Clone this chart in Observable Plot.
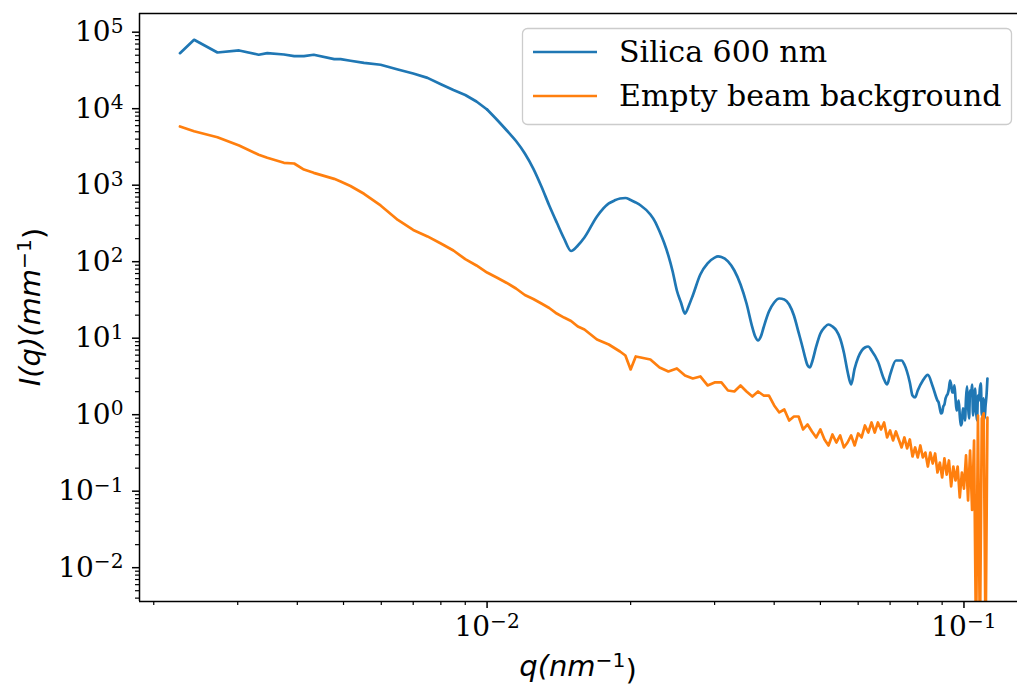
<!DOCTYPE html>
<html>
<head>
<meta charset="utf-8">
<script src="https://cdn.jsdelivr.net/npm/d3@7"></script>
<script src="https://cdn.jsdelivr.net/npm/@observablehq/plot@0.6"></script>
<style>
  html, body { margin: 0; padding: 0; background: #fff; }
  #chart { width: 1018px; height: 686px; overflow: hidden; }
</style>
</head>
<body>
<div id="chart"></div>
<script>
// ---- data ----
const seriesNames = ["Silica 600 nm", "Empty beam background"];
const seriesColors = ["#1f77b4", "#ff7f0e"];

const qSilica = [0.00227,0.00243,0.00272,0.00302,0.00332,0.00346,0.00375,0.00394,0.00413,0.00433,
  0.00478,0.00493,0.00517,0.00552,0.00598,0.0065,0.0070,0.0075,0.008,0.0085,
  0.009,0.0095,0.010,0.0105,0.011,0.0115,0.012,0.0125,0.013,0.0135,
  0.014,0.0145,0.015,0.0155,0.016,0.017,0.018,0.0185,0.019,0.0195,
  0.020,0.0205,0.021,0.022,0.0225,0.023,0.0235,0.024,0.0245,0.025,
  0.0255,0.026,0.0265,0.027,0.028,0.029,0.030,0.0305,0.031,0.032,
  0.033,0.034,0.035,0.036,0.0365,0.037,0.0375,0.038,0.039,0.040,
  0.041,0.042,0.043,0.044,0.045,0.046,0.0465,0.047,0.0475,0.048,
  0.049,0.050,0.051,0.052,0.053,0.054,0.055,0.056,0.057,0.058,
  0.059,0.060,0.062,0.063,0.064,0.066,0.068,0.069,0.070,0.072,
  0.074,0.075,0.077,0.078,0.079,0.080,0.082,0.084,0.086,0.088,
  0.0885,0.089,0.0895,0.090,0.0905,0.091,0.0915,0.092,0.0925,0.093,
  0.0935,0.094,0.0945,0.095,0.0955,0.096,0.0965,0.097,0.0975,0.098,
  0.0985,0.099,0.0995,0.100,0.1005,0.101,0.1015,0.102,0.1025,0.103,
  0.1035,0.104,0.1045,0.105,0.1055,0.106,0.1065,0.107,0.1075,0.108,
  0.1085,0.109,0.1095,0.110,0.1105,0.111,0.1115,0.112];
const iSilica = [53200,79600,54300,57700,50700,53200,51100,48600,48600,50700,
  44400,44400,42300,39800,37500,32500,28800,25300,20900,17500,
  15100,12400,9760,7120,5190,3780,2600,1650,962,543,
  325,201,138,163,207,390,577,631,670,680,
  641,594,543,414,335,248,178,120,74.4,42.0,
  29.3,21.0,26.8,36.2,68.0,94.7,113,117,115,101,
  76.7,50.4,28.4,13.8,10.5,9.33,10.5,13.8,22.3,29.3,
  33.0,32.1,27.6,19.8,11.9,7.12,5.43,4.40,4.14,4.81,
  7.79,11.5,13.8,15.1,14.2,12.6,9.91,6.50,3.67,2.48,
  4.02,5.59,7.56,7.79,6.91,4.96,2.89,2.48,3.31,5.11,
  5.11,4.53,2.64,1.78,1.68,2.07,2.80,3.31,2.34,1.53,
  1.44,1.21,1.04,1.07,1.28,1.36,1.63,1.78,1.89,2.20,
  2.80,2.48,1.95,1.95,2.41,1.63,1.135,1.28,1.53,0.976,
  0.723,0.791,1.21,1.135,0.840,1.63,2.34,1.32,0.892,2.07,
  1.78,2.48,0.976,1.44,2.20,1.135,0.840,1.78,1.53,2.20,
  2.56,0.976,1.32,1.63,0.892,1.32,1.78,2.97];

const qEmpty = [0.00227,0.00243,0.00272,0.00302,0.00332,0.00346,0.00375,0.00394,0.00413,0.00433,
  0.00478,0.00493,0.00517,0.00552,0.00598,0.0065,0.0070,0.0075,0.008,0.0085,
  0.009,0.0095,0.010,0.0105,0.011,0.0115,0.012,0.0125,0.013,0.0135,
  0.014,0.0145,0.015,0.0155,0.016,0.017,0.018,0.019,0.0195,0.020,
  0.0205,0.021,0.022,0.023,0.024,0.025,0.026,0.027,0.028,0.029,
  0.030,0.031,0.032,0.033,0.034,0.035,0.036,0.037,0.038,0.039,
  0.040,0.041,0.042,0.043,0.044,0.045,0.046,0.047,0.048,0.049,
  0.050,0.051,0.052,0.053,0.054,0.055,0.056,0.057,0.058,0.059,
  0.060,0.061,0.062,0.063,0.064,0.065,0.066,0.067,0.068,0.069,
  0.070,0.071,0.072,0.073,0.074,0.075,0.076,0.077,0.078,0.079,
  0.080,0.081,0.082,0.083,0.084,0.085,0.086,0.087,0.088,0.089,
  0.090,0.091,0.092,0.093,0.094,0.095,0.096,0.097,0.098,0.099,
  0.100,0.101,0.102,0.103,0.104,0.105,0.106,0.107,0.108,0.109,
  0.110,0.111,0.112];
const iEmpty = [5850,5080,4240,3300,2500,2280,1960,1920,1600,1450,
  1210,1120,976,772,543,351,260,214,173,140,
  108,89.2,72.2,61.6,52.7,44.6,36.7,32.5,28.4,24.8,
  21.0,18.6,16.8,14.2,13.0,9.62,8.27,6.70,5.94,3.90,
  5.77,5.59,5.27,4.14,3.67,4.02,3.25,2.97,3.16,2.41,
  2.64,2.64,2.07,2.01,2.41,2.01,1.73,2.01,1.78,1.78,
  1.32,1.07,1.17,0.840,0.947,0.947,0.641,0.745,0.603,0.504,
  0.641,0.474,0.396,0.551,0.433,0.535,0.373,0.433,0.535,0.396,
  0.568,0.504,0.723,0.585,0.791,0.585,0.791,0.641,0.791,0.504,
  0.622,0.460,0.603,0.474,0.373,0.504,0.362,0.474,0.284,0.373,
  0.276,0.396,0.276,0.320,0.210,0.320,0.230,0.311,0.1755,0.237,
  0.151,0.268,0.165,0.252,0.1153,0.210,0.138,0.210,0.0827,0.1755,
  0.108,0.293,0.0755,0.340,0.0568,0.460,0.001,0.976,0.001,0.892,
  1.04,0.001,0.919];

const xDomain = [0.001867, 0.1295];
const yDomain = [0.003614, 175500];
const xMajorTicks = [0.01, 0.1];
const xMinorTicks = [0.002,0.003,0.004,0.005,0.006,0.007,0.008,0.009,0.02,0.03,0.04,0.05,0.06,0.07,0.08,0.09];
const yMajorTicks = [1e-2,1e-1,1e0,1e1,1e2,1e3,1e4,1e5];
const yMinorTicks = (() => {
  const out = [];
  for (const e of [-3,-2,-1,0,1,2,3,4]) for (const m of [2,3,4,5,6,7,8,9]) out.push(+(m + "e" + e));
  return out.filter(d => d >= yDomain[0] && d <= yDomain[1]);
})();
const xLabel = ["q", "(nm", "\u22121", ")"];
const yLabel = ["I", "(q)(mm", "\u22121", ")"];

// ---- build ----
const silica = qSilica.map((q, k) => ({q, I: iSilica[k]}));
const empty = qEmpty.map((q, k) => ({q, I: iEmpty[k]}));
const fmt = d => "10^" + Math.round(Math.log10(d));

const chart = Plot.plot({
  width: 1018,
  height: 686,
  marginLeft: 139,
  marginRight: 1,
  marginTop: 13,
  marginBottom: 85,
  style: {background: "white", fontFamily: "'DejaVu Serif', serif", fontSize: "28px", color: "black"},
  x: {type: "log", domain: xDomain},
  y: {type: "log", domain: yDomain},
  marks: [
    Plot.axisX({ticks: xMinorTicks, tickSize: 4, strokeWidth: 1.2, tickFormat: () => "", label: null}),
    Plot.axisX({ticks: xMajorTicks, tickSize: 7, strokeWidth: 1.5, tickPadding: 8, tickFormat: fmt, fontSize: 28, label: null}),
    Plot.axisY({ticks: yMinorTicks, tickSize: 4, strokeWidth: 1.2, tickFormat: () => "", label: null}),
    Plot.axisY({ticks: yMajorTicks, tickSize: 7, strokeWidth: 1.5, tickPadding: 9, tickFormat: fmt, fontSize: 28, label: null}),
    Plot.line(silica.filter(d => d.q <= 0.01), {x: "q", y: "I", stroke: seriesColors[0], strokeWidth: 2.7, clip: true}),
    Plot.line(silica.filter(d => d.q >= 0.01), {x: "q", y: "I", stroke: seriesColors[0], strokeWidth: 2.7, curve: "monotone-x", clip: true}),
    Plot.line(empty, {x: "q", y: "I", stroke: seriesColors[1], strokeWidth: 2.7, clip: true}),
    Plot.ruleX([xDomain[0]], {stroke: "black", strokeWidth: 1.5}),
    Plot.ruleY(yDomain, {stroke: "black", strokeWidth: 1.5})
  ]
});

// superscript exponents in tick labels
const svg = d3.select(chart);
svg.selectAll("text").each(function() {
  const t = d3.select(this);
  const m = /^10\^(-?\d+)$/.exec(this.textContent);
  if (!m) return;
  t.text(null);
  t.append("tspan").text("10");
  t.append("tspan").attr("dy", "-0.42em").attr("font-size", "0.72em").text(m[1].replace("-", "\u2212"));
});

// axis titles
function addLabel(parts, x, y, rotate) {
  const t = svg.append("text")
    .attr("transform", `translate(${x},${y})` + (rotate ? " rotate(-90)" : ""))
    .attr("text-anchor", "middle")
    .attr("font-family", "'DejaVu Sans', sans-serif")
    .attr("font-size", 29)
    .attr("fill", "black");
  t.append("tspan").attr("font-style", "italic").text(parts[0]);
  t.append("tspan").attr("font-style", "italic").text(parts[1]);
  t.append("tspan").attr("dy", "-0.45em").attr("font-size", "0.7em").text(parts[2]);
  t.append("tspan").attr("dy", "0.45em").text(parts[3]);
}
addLabel(xLabel, 578, 676, false);
addLabel(yLabel, 40, 307, true);

// legend
const lg = svg.append("g");
lg.append("rect").attr("x", 522.5).attr("y", 28.5).attr("width", 489).attr("height", 96)
  .attr("rx", 5).attr("fill", "white").attr("fill-opacity", 0.8).attr("stroke", "#cccccc").attr("stroke-width", 1.3);
seriesNames.forEach((name, k) => {
  const yy = 52 + k * 44;
  lg.append("line").attr("x1", 533).attr("x2", 597).attr("y1", yy).attr("y2", yy)
    .attr("stroke", seriesColors[k]).attr("stroke-width", 2.7);
  lg.append("text").attr("x", 619).attr("y", yy + 10).attr("text-anchor", "start")
    .attr("font-family", "'DejaVu Serif', serif")
    .attr("font-size", 30).attr("fill", "black").text(name);
});

document.getElementById("chart").appendChild(chart);
</script>
</body>
</html>
